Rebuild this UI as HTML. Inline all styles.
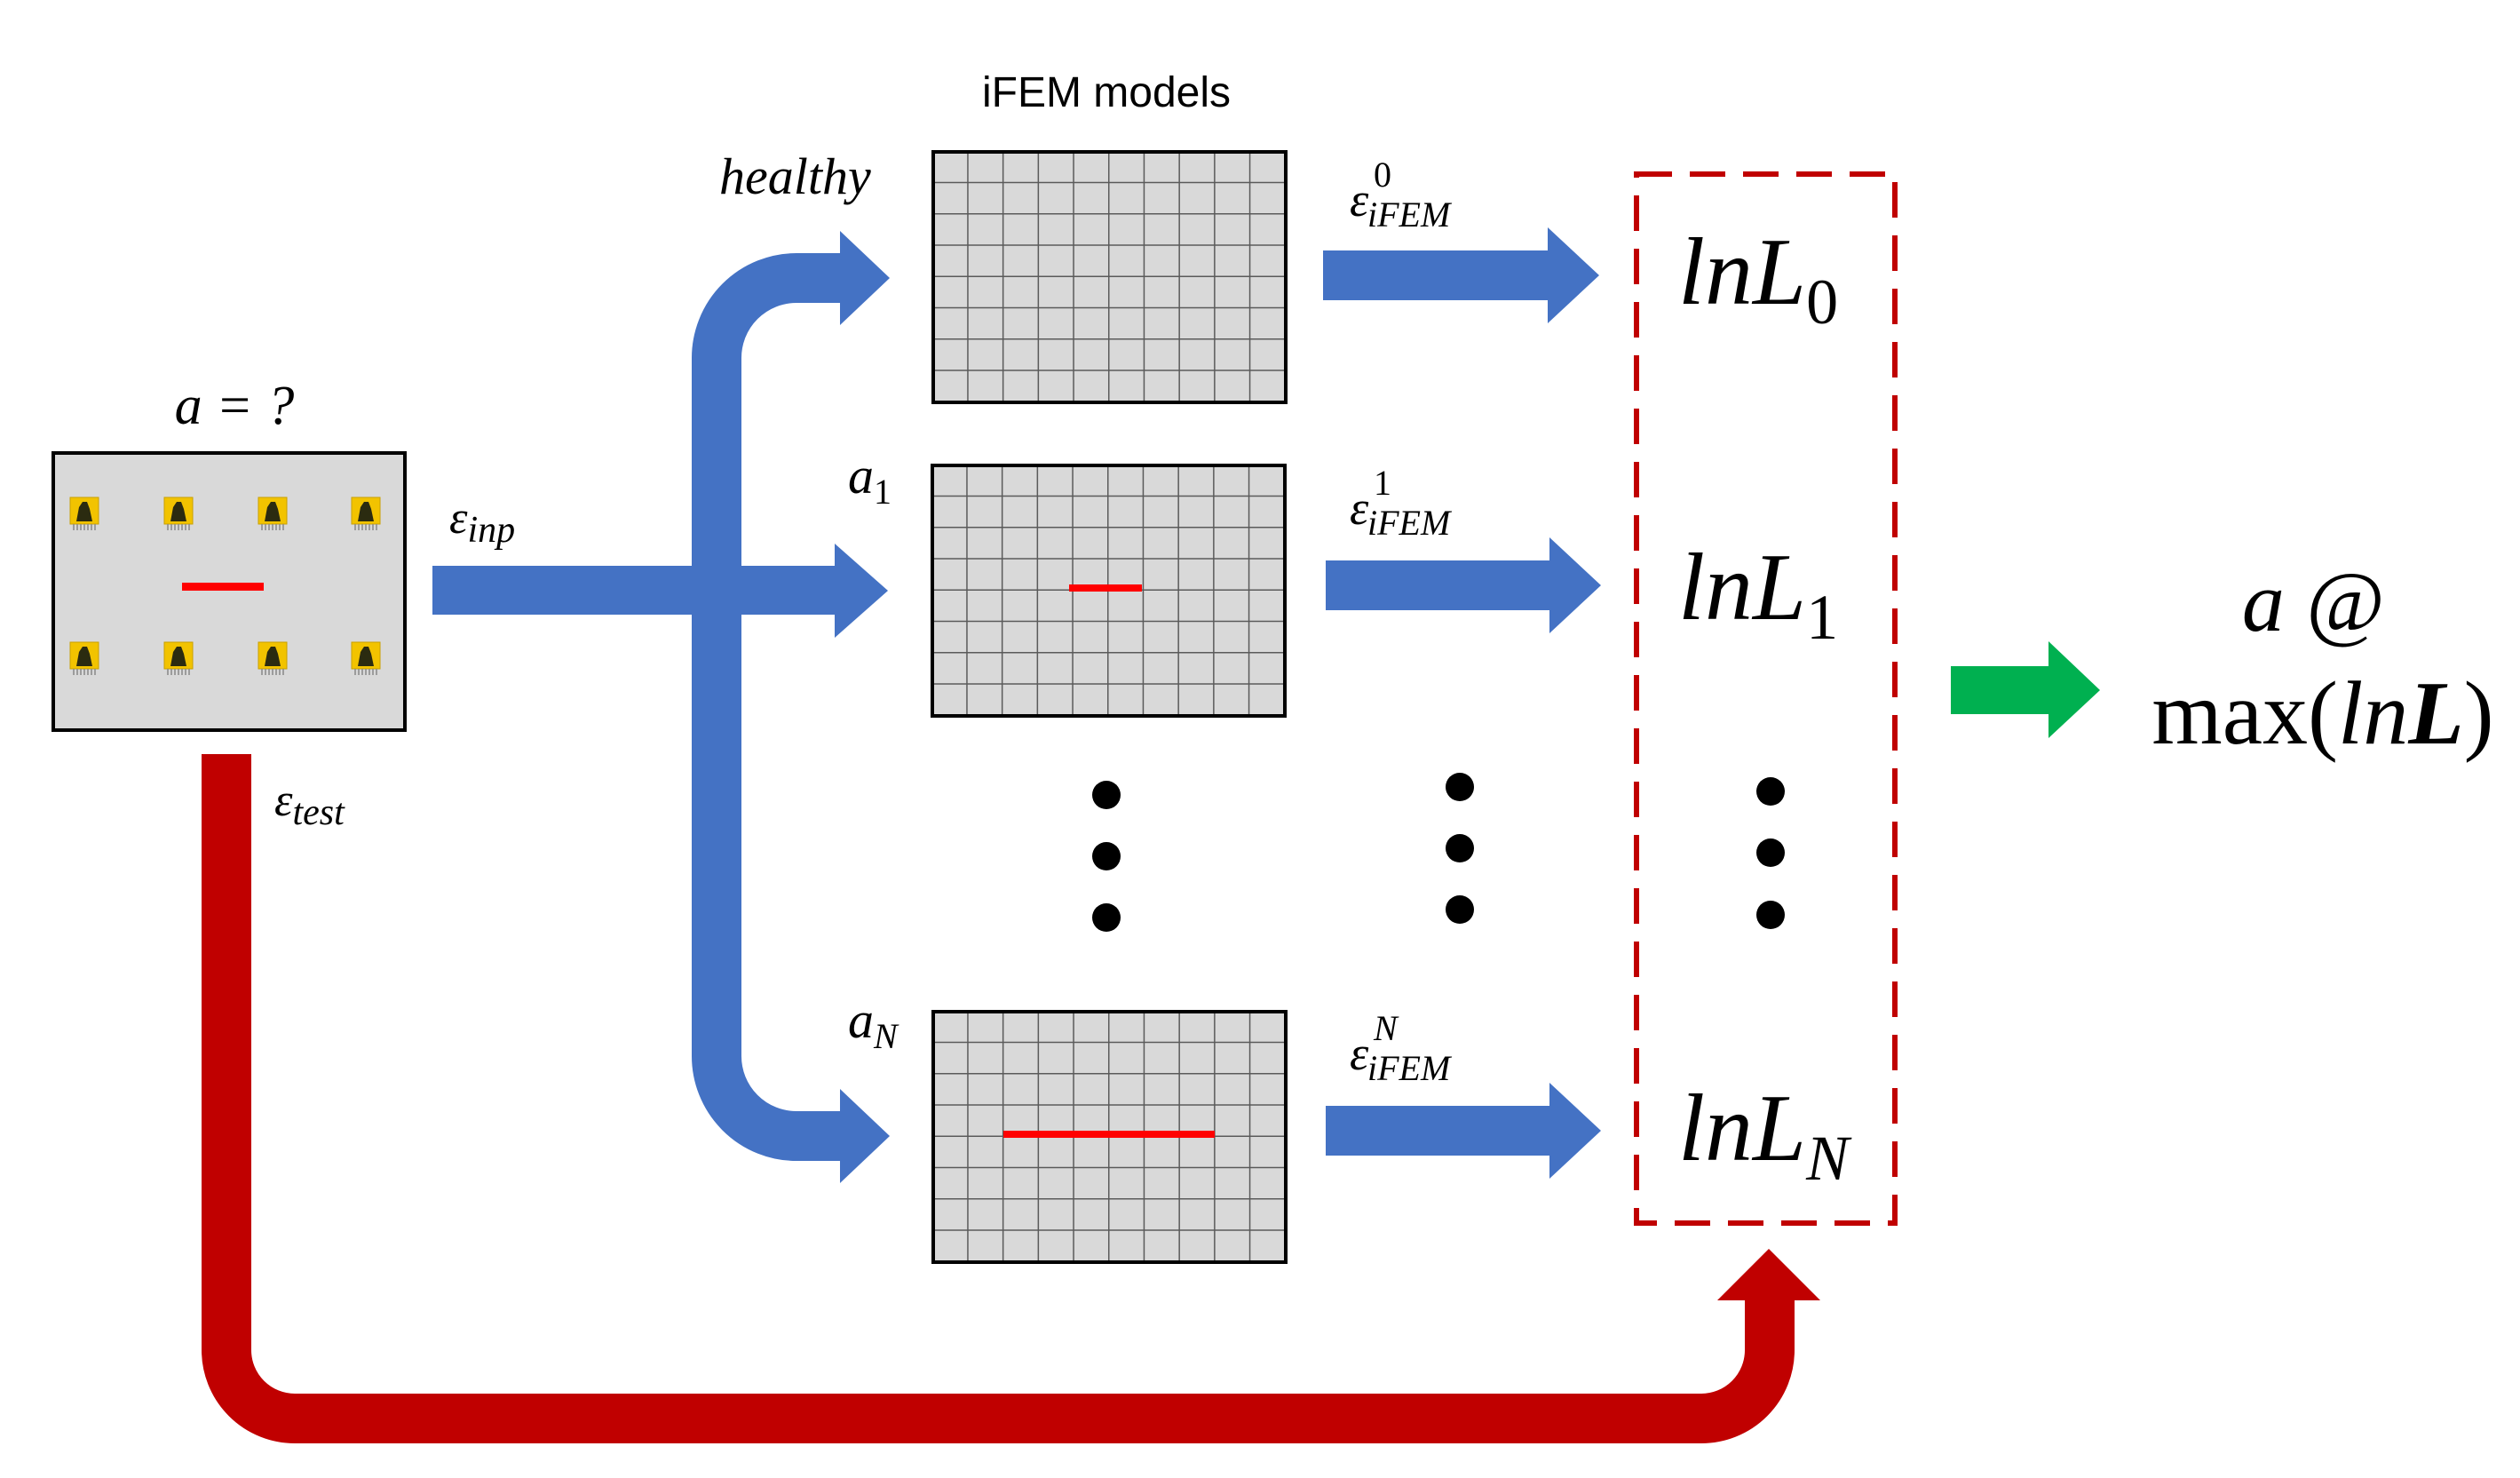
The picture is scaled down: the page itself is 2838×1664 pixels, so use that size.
<!DOCTYPE html>
<html><head><meta charset="utf-8"><style>
html,body{margin:0;padding:0;background:#fff}
svg{display:block}
.m{font-family:"Liberation Serif",serif;font-style:italic;fill:#000}
</style></head><body>
<svg width="2838" height="1664" viewBox="0 0 2838 1664" xmlns="http://www.w3.org/2000/svg">
<defs>
<pattern id="g1" x="1051" y="171" width="39.7" height="35.25" patternUnits="userSpaceOnUse">
<rect width="39.7" height="35.25" fill="#d9d9d9"/>
<path d="M39.7 0V35.25M0 35.25H39.7" stroke="#5a5a5a" stroke-width="3"/>
</pattern>
<pattern id="g2" x="1050" y="524" width="39.7" height="35.25" patternUnits="userSpaceOnUse">
<rect width="39.7" height="35.25" fill="#d9d9d9"/>
<path d="M39.7 0V35.25M0 35.25H39.7" stroke="#5a5a5a" stroke-width="3"/>
</pattern>
<pattern id="g3" x="1051" y="1139" width="39.7" height="35.25" patternUnits="userSpaceOnUse">
<rect width="39.7" height="35.25" fill="#d9d9d9"/>
<path d="M39.7 0V35.25M0 35.25H39.7" stroke="#5a5a5a" stroke-width="3"/>
</pattern>
<g id="sensor">
<rect x="-16" y="-17" width="32" height="30" fill="#f2c300" stroke="#c9a000" stroke-width="1"/>
<path d="M-9 10 L-6 -6 L-2 -12 L3 -12 L6 -4 L9 10 Z" fill="#2b2b10"/>
<path d="M-12 13v7M-8 13v7M-4 13v7M0 13v7M4 13v7M8 13v7M12 13v7" stroke="#888" stroke-width="1.5"/>
</g>
</defs>

<rect x="60" y="510" width="396" height="312" fill="#d9d9d9" stroke="#000" stroke-width="4"/>
<g>
<use href="#sensor" x="95" y="577"/><use href="#sensor" x="201" y="577"/><use href="#sensor" x="307" y="577"/><use href="#sensor" x="412" y="577"/>
<use href="#sensor" x="95" y="740"/><use href="#sensor" x="201" y="740"/><use href="#sensor" x="307" y="740"/><use href="#sensor" x="412" y="740"/>
</g>
<rect x="205" y="656" width="92" height="9" fill="#ff0000"/>
<text class="m" x="264" y="477" font-size="62" text-anchor="middle">a = ?</text>

<path d="M255 849 V1520 A77 77 0 0 0 332 1597 H1916 A77 77 0 0 0 1993 1520 V1460" fill="none" stroke="#c00000" stroke-width="56"/>
<polygon points="1934,1464 2050,1464 1992,1406" fill="#c00000"/>
<text class="m" x="309" y="918" font-size="52">ε<tspan font-size="42" dy="10">test</tspan></text>

<rect x="487" y="637" width="455" height="55" fill="#4472c4"/>
<polygon points="940,612 1000,665 940,718" fill="#4472c4"/>
<path d="M950 313 H897 A90 90 0 0 0 807 403 V1189 A90 90 0 0 0 897 1279 H950" fill="none" stroke="#4472c4" stroke-width="56"/>
<polygon points="946,260 1002,313 946,366" fill="#4472c4"/>
<polygon points="946,1226 1002,1279 946,1332" fill="#4472c4"/>
<text class="m" x="506" y="600" font-size="52">ε<tspan font-size="42" dy="10">inp</tspan></text>

<text x="1246" y="120" font-family="Liberation Sans, sans-serif" font-size="48" text-anchor="middle">iFEM models</text>
<rect x="1051" y="171" width="397" height="282" fill="url(#g1)" stroke="#000" stroke-width="4"/>
<rect x="1050" y="524" width="397" height="282" fill="url(#g2)" stroke="#000" stroke-width="4"/>
<rect x="1051" y="1139" width="397" height="282" fill="url(#g3)" stroke="#000" stroke-width="4"/>
<rect x="1204" y="658" width="82" height="8" fill="#ff0000"/>
<rect x="1130" y="1273" width="238" height="8" fill="#ff0000"/>
<text class="m" x="810" y="218" font-size="58">healthy</text>
<text class="m" x="955" y="555" font-size="58">a<tspan font-style="normal" font-size="40" dy="12">1</tspan></text>
<text class="m" x="955" y="1168" font-size="58">a<tspan font-size="40" dy="12">N</tspan></text>

<g fill="#000">
<circle cx="1246" cy="895" r="16"/><circle cx="1246" cy="964" r="16"/><circle cx="1246" cy="1033" r="16"/>
<circle cx="1644" cy="886" r="16"/><circle cx="1644" cy="955" r="16"/><circle cx="1644" cy="1024" r="16"/>
<circle cx="1994" cy="891" r="16"/><circle cx="1994" cy="960" r="16"/><circle cx="1994" cy="1030" r="16"/>
</g>

<rect x="1490" y="282" width="255" height="56" fill="#4472c4"/>
<polygon points="1743,256 1801,310 1743,364" fill="#4472c4"/>
<rect x="1493" y="631" width="252" height="56" fill="#4472c4"/>
<polygon points="1745,605 1803,659 1745,713" fill="#4472c4"/>
<rect x="1493" y="1245" width="252" height="56" fill="#4472c4"/>
<polygon points="1745,1219 1803,1273 1745,1327" fill="#4472c4"/>

<text class="m" x="1520" y="243" font-size="54">ε</text><text x="1547" y="210" font-size="40" font-family="Liberation Serif, serif">0</text><text class="m" x="1540" y="255" font-size="40">iFEM</text>
<text class="m" x="1520" y="590" font-size="54">ε</text><text x="1547" y="557" font-size="40" font-family="Liberation Serif, serif">1</text><text class="m" x="1540" y="602" font-size="40">iFEM</text>
<text class="m" x="1520" y="1204" font-size="54">ε</text><text class="m" x="1547" y="1171" font-size="40">N</text><text class="m" x="1540" y="1216" font-size="40">iFEM</text>

<rect x="1843" y="196" width="291" height="1181" fill="none" stroke="#c00000" stroke-width="6" stroke-dasharray="40 20"/>
<text class="m" x="1890" y="342" font-size="108">lnL<tspan font-style="normal" font-size="72" dy="22">0</tspan></text>
<text class="m" x="1890" y="697" font-size="108">lnL<tspan font-style="normal" font-size="72" dy="22">1</tspan></text>
<text class="m" x="1890" y="1306" font-size="108">lnL<tspan font-size="72" dy="22">N</tspan></text>

<rect x="2197" y="750" width="112" height="54" fill="#00b050"/>
<polygon points="2307,722 2365,777 2307,831" fill="#00b050"/>
<text class="m" x="2605" y="710" font-size="96" text-anchor="middle">a @</text>
<text x="2616" y="837" font-size="102" text-anchor="middle" font-family="Liberation Serif, serif">max(<tspan font-style="italic">ln</tspan><tspan font-style="italic" font-weight="bold">L</tspan>)</text>
</svg>
</body></html>
